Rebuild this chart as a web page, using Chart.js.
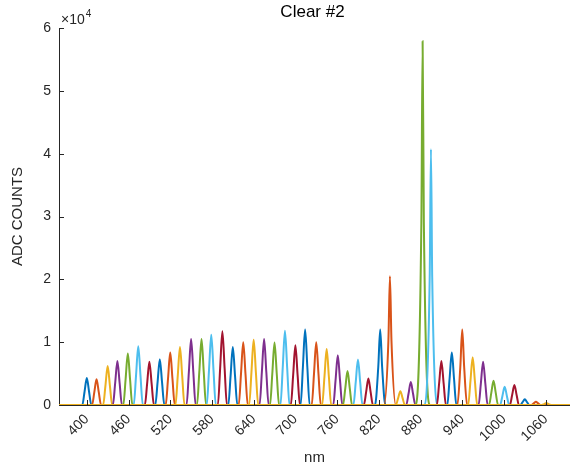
<!DOCTYPE html>
<html>
<head>
<meta charset="utf-8">
<script src="https://cdn.jsdelivr.net/npm/chart.js@4.4.1/dist/chart.umd.min.js"></script>
<style>
  html, body { margin: 0; padding: 0; background: #fff; }
</style>
</head>
<body>
<canvas id="chart" width="570" height="468"></canvas>
<script>
// peak positions (nm) and heights (ADC counts)
const peakCenters = [400, 414, 430, 444, 459, 474, 490, 505, 520, 534, 550, 565, 579, 595, 610,
    625, 640, 655, 670, 685, 700, 714, 730, 745, 761, 775, 790, 805, 822, 836,
    851, 866, 883, 895, 910, 925, 940, 955, 970, 985, 1001, 1015, 1030, 1046, 1061];
const peakHeights = [4300, 4100, 6200, 7000, 8200, 9350, 6900, 7300, 8350, 9250, 10500, 10500, 11200, 11750, 9250,
    10000, 10400, 10500, 9950, 11800, 9500, 12000, 10000, 8900, 7900, 5400, 7250, 4200, 12000, 20500,
    2200, 3650, 57900, 40700, 7000, 8350, 12000, 7600, 6900, 3850, 2900, 3200, 900, 500, 300];
// half width at half height and half width at the foot (nm)
const peakHalfWidths = [3.2, 3.2, 3.2, 3.2, 3.2, 3.2, 3.2, 3.2, 3.2, 3.2, 3.2, 3.2, 3.2, 3.2, 3.2,
    3.2, 3.2, 3.2, 3.2, 3.2, 3.2, 3.2, 3.2, 3.2, 3.2, 3.2, 3.2, 3.2, 2.8, 2.2,
    3.2, 3.2, 1.8, 1.8, 3.2, 3.2, 2.8, 3.2, 3.2, 3.2, 3.2, 3.2, 3.2, 3.2, 3.2];
const peakFootWidths = [6.5, 6.5, 6.5, 6.5, 6.5, 6.5, 6.5, 6.5, 6.5, 6.5, 6.5, 6.5, 6.5, 6.5, 6.5,
    6.5, 6.5, 6.5, 6.5, 6.5, 6.5, 6.5, 6.5, 6.5, 6.5, 6.5, 6.5, 6.5, 7.5, 8.5,
    6.5, 6.5, 11, 10, 6.5, 6.5, 7, 6.5, 6.5, 6.5, 6.5, 6.5, 6.5, 6.5, 6.5];

const xRange = [360, 1095];
const xTickValues = [400, 460, 520, 580, 640, 700, 760, 820, 880, 940, 1000, 1060];
const xTickLabels = ['400', '460', '520', '580', '640', '700', '760', '820', '880', '940', '1000', '1060'];
const yTickValues = [0, 10000, 20000, 30000, 40000, 50000, 60000];
const yTickLabels = ['0', '1', '2', '3', '4', '5', '6'];

const lineColors = ['#0072BD', '#D95319', '#EDB120', '#7E2F8E', '#77AC30', '#4DBEEE', '#A2142F'];
const axisColor = '#262626';
const fontFamily = '"Liberation Sans", Arial, sans-serif';

const datasets = peakCenters.map((c, i) => {
    const h = peakHeights[i];
    const hw = peakHalfWidths[i];
    const fw = peakFootWidths[i];
    return {
        data: [
            { x: xRange[0], y: 0 },
            { x: c - fw, y: 0 },
            { x: c - hw, y: h / 2 },
            { x: c, y: h },
            { x: c + hw, y: h / 2 },
            { x: c + fw, y: 0 },
            { x: xRange[1], y: 0 }
        ],
        borderColor: lineColors[i % lineColors.length],
        borderWidth: 2,
        pointRadius: 0,
        fill: false,
        cubicInterpolationMode: 'monotone',
        order: peakCenters.length - i
    };
});

// MATLAB-style inward ticks, the x10^4 multiplier and the title centred on the axes
const axisExtras = {
    id: 'axisExtras',
    afterDraw(chart) {
        const { ctx, chartArea, scales } = chart;
        ctx.save();
        ctx.strokeStyle = axisColor;
        ctx.lineWidth = 1;
        ctx.beginPath();
        scales.x.ticks.forEach(t => {
            const px = Math.round(scales.x.getPixelForValue(t.value)) + 0.5;
            ctx.moveTo(px, chartArea.bottom);
            ctx.lineTo(px, chartArea.bottom - 5);
        });
        scales.y.ticks.forEach(t => {
            const py = Math.round(scales.y.getPixelForValue(t.value)) + 0.5;
            ctx.moveTo(chartArea.left, py);
            ctx.lineTo(chartArea.left + 5, py);
        });
        ctx.stroke();

        ctx.fillStyle = axisColor;
        ctx.textBaseline = 'alphabetic';
        ctx.textAlign = 'left';
        ctx.font = '14px ' + fontFamily;
        const x0 = chartArea.left + 2;
        ctx.fillText('\u00d710', x0, chartArea.top - 4);
        const w = ctx.measureText('\u00d710').width;
        ctx.font = '10px ' + fontFamily;
        ctx.fillText('4', x0 + w + 1, chartArea.top - 11);

        ctx.fillStyle = '#000';
        ctx.textAlign = 'center';
        ctx.textBaseline = 'middle';
        ctx.font = '17px ' + fontFamily;
        ctx.fillText('Clear #2', (chartArea.left + chartArea.right) / 2 - 2, 12);
        ctx.restore();
    }
};

new Chart(document.getElementById('chart'), {
    type: 'line',
    data: { datasets },
    plugins: [axisExtras],
    options: {
        responsive: false,
        animation: false,
        layout: { padding: { left: 0, right: 0, top: 28, bottom: 0 } },
        plugins: {
            legend: { display: false },
            tooltip: { enabled: false },
            title: { display: false }
        },
        scales: {
            x: {
                type: 'linear',
                min: xRange[0],
                max: xRange[1],
                afterBuildTicks: scale => {
                    scale.ticks = xTickValues.map(v => ({ value: v }));
                },
                afterFit: scale => { scale.height = 63; },
                ticks: {
                    autoSkip: false,
                    minRotation: 45,
                    maxRotation: 45,
                    padding: 6,
                    color: axisColor,
                    font: { family: fontFamily, size: 14 },
                    callback: (v) => xTickLabels[xTickValues.indexOf(v)]
                },
                grid: { drawOnChartArea: false, drawTicks: false },
                border: { display: true, color: axisColor, width: 1 },
                title: {
                    display: true,
                    text: 'nm',
                    color: axisColor,
                    font: { family: fontFamily, size: 15 },
                    padding: { top: 0, bottom: 1 }
                }
            },
            y: {
                type: 'linear',
                min: 0,
                max: 60000,
                afterBuildTicks: scale => {
                    scale.ticks = yTickValues.map(v => ({ value: v }));
                },
                afterFit: scale => { scale.width = 59; },
                ticks: {
                    padding: 8,
                    color: axisColor,
                    font: { family: fontFamily, size: 14 },
                    callback: (v) => yTickLabels[yTickValues.indexOf(v)]
                },
                grid: { drawOnChartArea: false, drawTicks: false },
                border: { display: true, color: axisColor, width: 1 },
                title: {
                    display: true,
                    text: 'ADC COUNTS',
                    color: axisColor,
                    font: { family: fontFamily, size: 15 },
                    padding: { top: 9, bottom: 0 }
                }
            }
        }
    }
});
</script>
</body>
</html>
